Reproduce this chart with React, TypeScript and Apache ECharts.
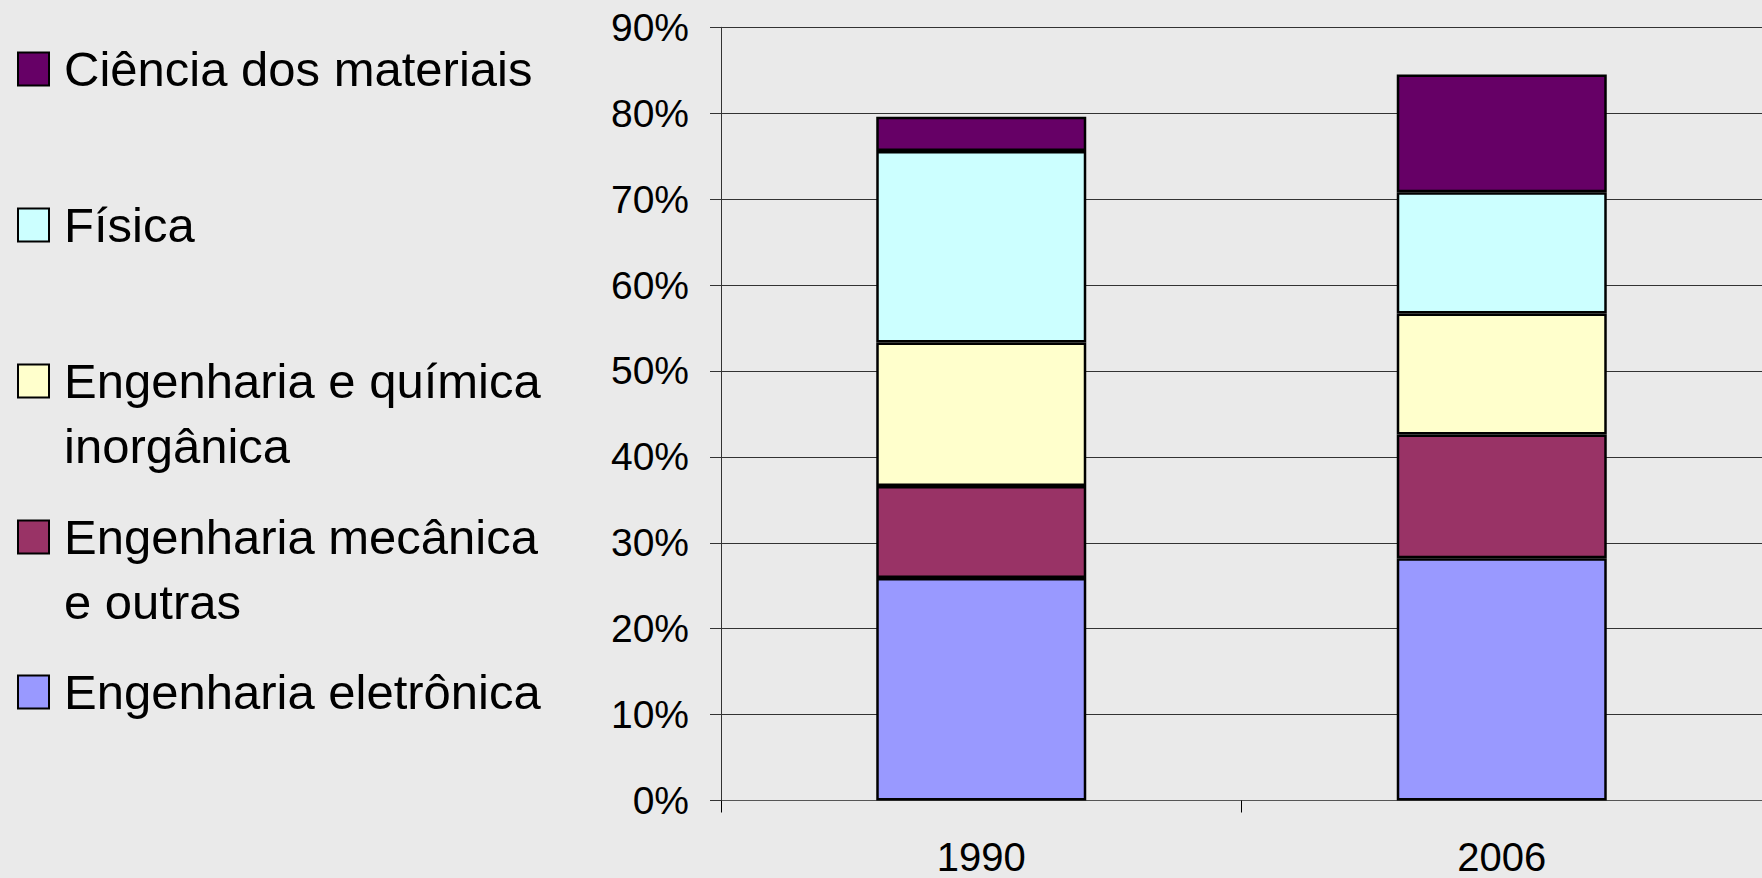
import React, { useEffect, useRef } from "react";
import * as echarts from "echarts";

const years = ["1990", "2006"];
const seriesNames = [
  "Engenharia eletrônica",
  "Engenharia mecânica e outras",
  "Engenharia e química inorgânica",
  "Física",
  "Ciência dos materiais",
];
const legendLabels = [
  "Engenharia eletrônica",
  "\nEngenharia mecânica\ne outras",
  "\nEngenharia e química\ninorgânica",
  "Física",
  "Ciência dos materiais",
];
const eletronica = [25.9, 28.2];
const mecanica = [10.7, 14.4];
const quimica = [16.7, 14.1];
const fisica = [22.3, 14.1];
const materiais = [4.0, 13.7];
const colors = ["#9999FF", "#993366", "#FFFFCC", "#CCFFFF", "#660066"];
const yTicks = [0, 90, 10];

const FONT = "'Liberation Sans', Arial, sans-serif";

export default function App() {
  const ref = useRef<HTMLDivElement>(null);
  useEffect(() => {
    if (!ref.current) return;
    const chart = echarts.init(ref.current, undefined, { renderer: "svg" });
    const values = [eletronica, mecanica, quimica, fisica, materiais];
    const legendTops = [659.5, 439.5, 283.5, 192.5, 36.5];
    const legends = seriesNames.map((name, i) => ({
      data: [name],
      left: 17,
      top: legendTops[i],
      orient: "vertical",
      padding: 0,
      icon: "rect",
      itemWidth: 31,
      itemHeight: 33,
      selectedMode: false,
      formatter: () => legendLabels[i],
      textStyle: {
        fontSize: 49,
        color: "#000",
        fontFamily: FONT,
        lineHeight: 65,
        padding: [0, 0, 0, 10],
      },
    }));
    chart.setOption({
      animation: false,
      backgroundColor: "#EAEAEA",
      textStyle: { fontFamily: FONT },
      legend: legends,
      grid: { left: 721, right: -3, top: 27.3, bottom: 77.5 },
      xAxis: {
        type: "category",
        data: years,
        axisLine: { lineStyle: { color: "#555", width: 1 } },
        axisTick: { show: true, length: 12, lineStyle: { color: "#000" } },
        axisLabel: {
          fontSize: 40,
          lineHeight: 40,
          color: "#000",
          margin: 36,
          fontFamily: FONT,
        },
      },
      yAxis: {
        type: "value",
        min: yTicks[0],
        max: yTicks[1],
        interval: yTicks[2],
        axisLine: { show: true, lineStyle: { color: "#333", width: 1 } },
        axisTick: { show: true, length: 11, lineStyle: { color: "#333" } },
        axisLabel: {
          fontSize: 39,
          color: "#000",
          margin: 32,
          fontFamily: FONT,
          formatter: "{value}%",
        },
        splitLine: { show: true, lineStyle: { color: "#333", width: 1 } },
      },
      series: seriesNames.map((name, i) => ({
        name,
        type: "bar",
        stack: "total",
        barWidth: 210,
        data: values[i],
        itemStyle: { color: colors[i], borderColor: "#000", borderWidth: 2.5 },
      })),
    });
    return () => chart.dispose();
  }, []);
  return (
    <div
      ref={ref}
      style={{ position: "fixed", left: 0, top: 0, width: 1762, height: 878 }}
    />
  );
}
